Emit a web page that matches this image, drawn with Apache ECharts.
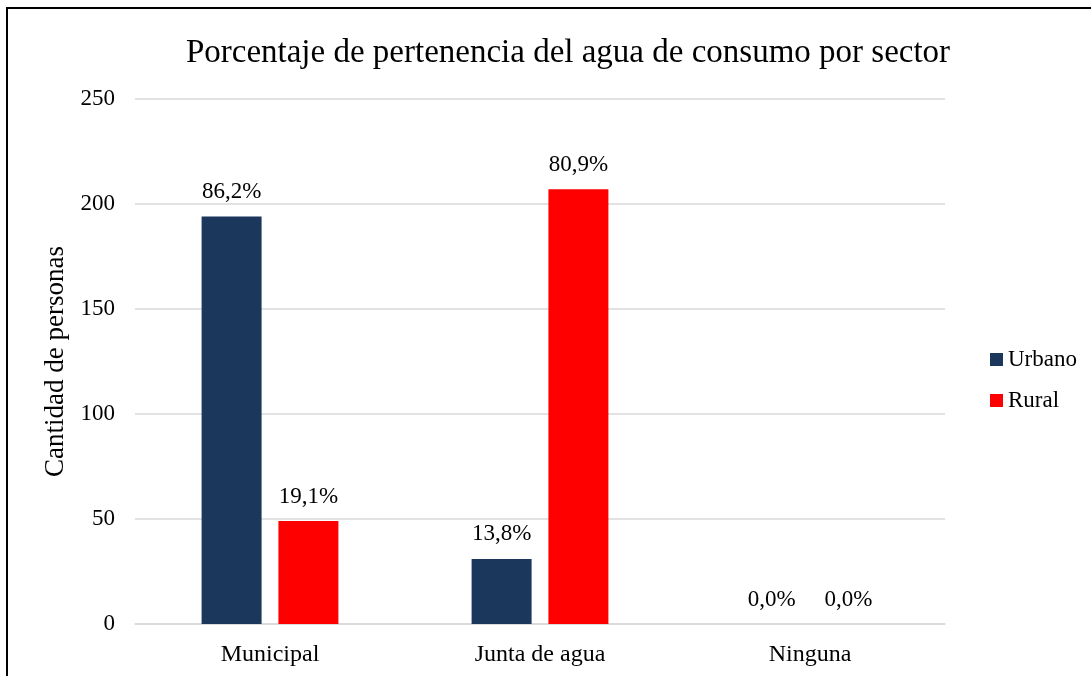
<!DOCTYPE html>
<html>
<head>
<meta charset="utf-8">
<script src="https://cdn.jsdelivr.net/npm/echarts@6/dist/echarts.min.js"></script>
<style>
  html, body { margin: 0; padding: 0; background: #fff; }
  #chart { width: 1091px; height: 676px; }
</style>
</head>
<body>
<div id="chart"></div>
<script>
// datos
const categorias = ['Municipal', 'Junta de agua', 'Ninguna']
const urbano = [194, 31, 0]
const rural = [49, 207, 0]
const etiquetasUrbano = ['86,2%', '13,8%', '0,0%']
const etiquetasRural = ['19,1%', '80,9%', '0,0%']

const fuente = '"Liberation Serif", "Times New Roman", serif'

const chart = echarts.init(document.getElementById('chart'))

const option = {
  backgroundColor: '#fff',
  textStyle: { fontFamily: fuente },
  graphic: [
    {
      type: 'rect',
      shape: { x: 7, y: 8, width: 1300, height: 900 },
      style: { fill: 'none', stroke: '#000', lineWidth: 2 },
      silent: true
    }
  ],
  title: {
    text: 'Porcentaje de pertenencia del agua de consumo por sector',
    left: 563,
    top: 32,
    textAlign: 'center',
    textStyle: { fontFamily: fuente, fontSize: 33, fontWeight: 'normal', color: '#000' }
  },
  legend: {
    orient: 'vertical',
    left: 985,
    top: 343,
    itemWidth: 13,
    itemHeight: 13,
    itemGap: 18,
    icon: 'rect',
    textStyle: { fontFamily: fuente, fontSize: 23, color: '#000' },
    data: ['Urbano', 'Rural']
  },
  grid: {
    left: 135,
    right: 146,
    top: 99,
    bottom: 52,
    containLabel: false
  },
  xAxis: {
    type: 'category',
    data: categorias,
    axisTick: { show: false },
    axisLine: { lineStyle: { color: '#d9d9d9', width: 1.5 } },
    axisLabel: { fontFamily: fuente, fontSize: 24, color: '#000', margin: 19 }
  },
  yAxis: {
    type: 'value',
    min: 0,
    max: 250,
    interval: 50,
    name: 'Cantidad de personas',
    nameLocation: 'middle',
    nameGap: 63,
    nameTextStyle: { fontFamily: fuente, fontSize: 27, color: '#000' },
    axisLine: { show: false },
    axisTick: { show: false },
    axisLabel: { fontFamily: fuente, fontSize: 23, color: '#000', margin: 20 },
    splitLine: { lineStyle: { color: '#d9d9d9', width: 1.5 } }
  },
  series: [
    {
      name: 'Urbano',
      type: 'bar',
      data: urbano,
      barWidth: 60,
      barGap: '28%',
      itemStyle: { color: '#1b375c' },
      label: {
        show: true,
        position: 'top',
        distance: 13,
        fontFamily: fuente,
        fontSize: 23,
        color: '#000',
        formatter: p => etiquetasUrbano[p.dataIndex]
      }
    },
    {
      name: 'Rural',
      type: 'bar',
      data: rural,
      barWidth: 60,
      itemStyle: { color: '#ff0000' },
      label: {
        show: true,
        position: 'top',
        distance: 13,
        fontFamily: fuente,
        fontSize: 23,
        color: '#000',
        formatter: p => etiquetasRural[p.dataIndex]
      }
    }
  ]
}

chart.setOption(option)
</script>
</body>
</html>
